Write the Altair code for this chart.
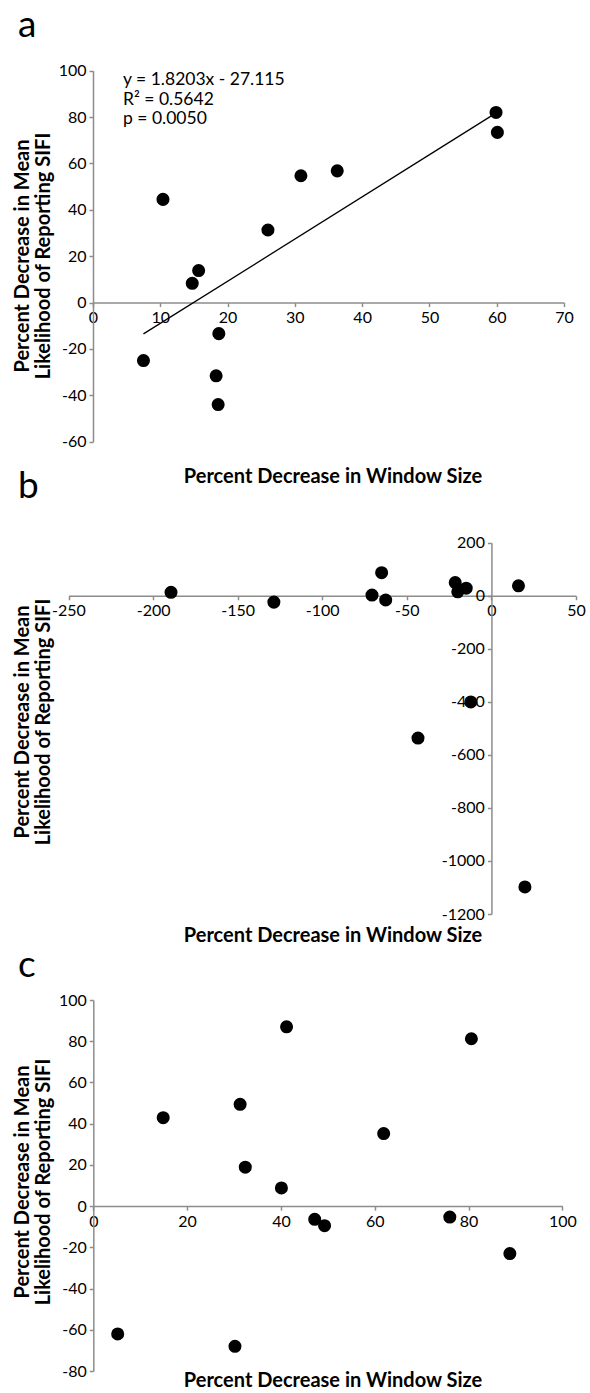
import altair as alt
import pandas as pd

# ---------------- data ----------------
a_x = [10.4, 14.75, 15.7, 26.0, 30.9, 36.3, 59.9, 60.1, 7.5, 18.7, 18.3, 18.6]
a_y = [44.5, 8.3, 13.8, 31.3, 54.7, 56.8, 82.0, 73.4, -25.0, -13.4, -31.6, -44.0]

b_x = [-189.4, -128.6, -64.9, -70.6, -62.5, -21.4, -19.9, -14.9, 16.0, -12.2, -43.4, 19.8]
b_y = [13.0, -24.0, 87.0, 2.5, -16.0, 49.5, 15.0, 28.5, 37.5, -400.5, -536.5, -1098.0]

c_x = [41.2, 80.6, 31.3, 14.9, 61.9, 32.4, 40.1, 47.2, 49.3, 76.0, 88.8, 5.2, 30.2]
c_y = [87.0, 81.2, 49.4, 42.9, 35.2, 18.9, 8.8, -6.4, -9.5, -5.3, -23.0, -62.0, -68.0]

a_xticks = [0, 10, 20, 30, 40, 50, 60, 70]
a_yticks = [-60, -40, -20, 0, 20, 40, 60, 80, 100]
b_xticks = [-250, -200, -150, -100, -50, 0, 50]
b_yticks = [-1200, -1000, -800, -600, -400, -200, 0, 200]
c_xticks = [0, 20, 40, 60, 80, 100]
c_yticks = [-80, -60, -40, -20, 0, 20, 40, 60, 80, 100]

eq_lines = ["y = 1.8203x - 27.115", "R\u00b2 = 0.5642", "p = 0.0050"]
y_title = ["Percent Decrease in Mean", "Likelihood of Reporting SIFI"]
x_title = "Percent Decrease in Window Size"
letters = ["a", "b", "c"]

# ---------------- style / layout (pixels on the 590x1393 canvas) ----------------
W, HT = 590, 1393
FONT = "Lato"
AX = "#8c8c8c"
PT = 170

# plot rectangles: (x_left, x_right, y_top, y_bottom)
RA = (93.0, 564.0, 70.7, 441.7)
RB = (68.5, 576.0, 542.7, 914.0)
RC = (93.3, 562.4, 1000.0, 1371.0)


def zero_px(lo, hi, dom):
    return lo + (hi - lo) * (0 - dom[0]) / (dom[1] - dom[0])


def axis(values, orient, offset):
    return alt.Axis(values=values, orient=orient, offset=offset, title=None,
                    grid=False, domainColor=AX, domainWidth=1.5, tickColor=AX,
                    tickWidth=1.5, tickSize=4, labelFont=FONT, labelFontSize=16,
                    labelColor="black", labelPadding=3, labelOverlap=False,
                    labelFlush=False, labelExpr="'' + datum.value")


def panel(df, fx, fy, dom_x, dom_y, rect, xticks, yticks):
    xl, xr, yt, yb = rect
    x_axis_y = zero_px(yb, yt, dom_y)      # pixel row of y = 0
    y_axis_x = zero_px(xl, xr, dom_x)      # pixel column of x = 0
    x = alt.X(f"{fx}:Q", scale=alt.Scale(domain=dom_x, range=[xl, xr], nice=False, zero=False),
              axis=axis(xticks, "bottom", -(HT - x_axis_y)))
    y = alt.Y(f"{fy}:Q", scale=alt.Scale(domain=dom_y, range=[yb, yt], nice=False, zero=False),
              axis=axis(yticks, "left", -max(y_axis_x, xl)))
    return alt.Chart(df).mark_circle(size=PT, color="black", opacity=1).encode(x=x, y=y)


def text(t, x, y, **kw):
    return alt.Chart(pd.DataFrame({"t": [t]})).mark_text(color="black", font=FONT, **kw).encode(
        x=alt.value(x), y=alt.value(y), text="t:N")


# ---------------- panel a ----------------
dfa = pd.DataFrame({"ax": a_x, "ay": a_y})
pts_a = panel(dfa, "ax", "ay", [0, 70], [-60, 100], RA, a_xticks, a_yticks)
reg_a = alt.Chart(dfa).transform_regression("ax", "ay").mark_line(
    color="black", strokeWidth=1.3).encode(x=alt.X("ax:Q"), y=alt.Y("ay:Q"))
pa = alt.layer(pts_a, reg_a)

# ---------------- panel b ----------------
dfb = pd.DataFrame({"bx": b_x, "by": b_y})
pb = panel(dfb, "bx", "by", [-250, 50], [-1200, 200], RB, b_xticks, b_yticks)

# ---------------- panel c ----------------
dfc = pd.DataFrame({"cx": c_x, "cy": c_y})
pc = panel(dfc, "cx", "cy", [0, 100], [-80, 100], RC, c_xticks, c_yticks)

# ---------------- texts ----------------
texts = [
    text("\n".join(eq_lines), 123, 85, fontSize=17.5, align="left", baseline="alphabetic",
         lineBreak="\n", lineHeight=19.5),
]
for letter, ly in zip(letters, [37, 498, 977]):
    texts.append(text(letter, 18, ly, fontSize=37, align="left", baseline="alphabetic"))
for cy in [256, 722, 1182]:
    texts.append(text("\n".join(y_title), 22.5, cy, fontSize=20, fontWeight="bold",
                      align="center", baseline="middle", angle=270, lineBreak="\n",
                      lineHeight=21.5))
for ty in [477, 936, 1381]:
    texts.append(text(x_title, 333, ty, fontSize=20, fontWeight="bold",
                      align="center", baseline="middle"))

chart = alt.layer(pa, pb, pc, *texts).resolve_scale(
    x="independent", y="independent"
).properties(
    width=W, height=HT, padding=0, background="white",
    autosize=alt.AutoSizeParams(type="none"),
).configure_view(stroke="transparent")

chart.save("out.html", embed_options={"renderer": "svg", "actions": False})
